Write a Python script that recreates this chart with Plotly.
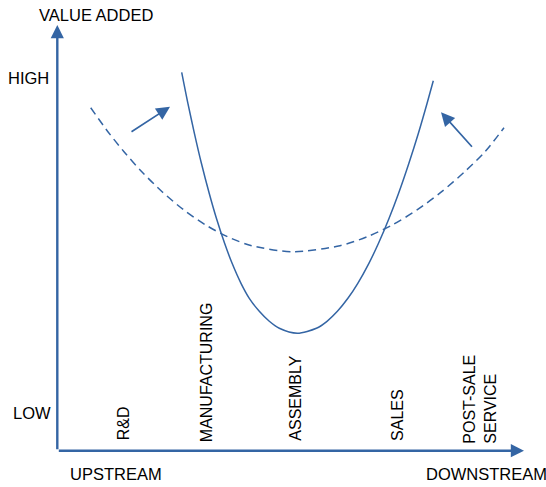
import plotly.graph_objects as go

# Coordinates are in chart units (origin = where the two axes meet)
W, H = 546, 487
X_MIN, X_MAX = -57.3, 488.7
Y_MIN, Y_MAX = -36.3, 450.7

BLUE = "#3465A4"

# Solid "smile" curve (current value added)
solid_x = [124.4, 130.6, 137.1, 144.1, 151.9, 159.1, 167.3, 174.8, 183.7, 192.0,
           202.0, 212.0, 222.0, 240.0,
           259.1, 269.7, 280.1, 290.6, 300.5, 311.6, 321.2, 331.8, 341.3, 351.6,
           361.1, 369.8, 376.0]
solid_y = [378.4, 347.4, 317.4, 287.4, 257.4, 232.4, 207.4, 187.4, 167.4, 152.4,
           139.4, 129.4, 122.4, 117.4,
           122.4, 129.4, 139.4, 152.4, 167.4, 187.4, 207.4, 232.4, 257.4, 287.4,
           317.4, 347.4, 370.0]

# Dashed curve (flatter value curve)
dashed_x = [33.4, 50.6, 66.7, 84.5, 104.8, 126.2, 147.9, 170.2, 194.3, 235.7,
            282.7, 310.1, 335.5, 360.1, 384.4, 407.4, 427.7, 446.7]
dashed_y = [343.0, 319.0, 299.0, 279.0, 259.0, 241.0, 226.0, 214.0, 205.0, 199.0,
            205.0, 214.0, 226.0, 241.0, 259.0, 279.0, 299.0, 323.0]

# Axes (origin -> arrow tip)
axis_x_tip = (466.7, 0.0)
axis_y_tip = (0.0, 425.7)

# Shift arrows: (tail_x, tail_y, tip_x, tip_y)
shift_arrows = [
    (72.7, 318.0, 112.7, 344.0),
    (416.0, 302.4, 383.7, 338.4),
]

# Stage labels along the chain (x centre, bottom y)
stage_labels = ["R&D", "MANUFACTURING", "ASSEMBLY", "SALES", "POST-SALE<br>SERVICE"]
stage_x = [65.7, 148.7, 238.7, 339.4, 422.7]
stage_bottom = [9.5, 7.5, 8.5, 8.5, 5.5]

FONT = "Liberation Sans, Arial, sans-serif"

fig = go.Figure()
fig.add_trace(go.Scatter(x=solid_x, y=solid_y, mode="lines",
                         line=dict(color=BLUE, width=1.5, shape="spline", smoothing=0.8),
                         hoverinfo="skip"))
fig.add_trace(go.Scatter(x=dashed_x, y=dashed_y, mode="lines",
                         line=dict(color=BLUE, width=1.5, dash="8px,5px",
                                   shape="spline", smoothing=0.8),
                         hoverinfo="skip"))

ann = []
# axes with arrowheads
for tip in (axis_x_tip, axis_y_tip):
    ann.append(dict(x=tip[0], y=tip[1], ax=0, ay=0, xref="x", yref="y",
                    axref="x", ayref="y", text="", showarrow=True,
                    arrowhead=2, arrowsize=1.1, arrowwidth=2.4,
                    arrowcolor=BLUE, standoff=0, startstandoff=0))
for (tx, ty, hx, hy) in shift_arrows:
    ann.append(dict(x=hx, y=hy, ax=tx, ay=ty, xref="x", yref="y",
                    axref="x", ayref="y", text="", showarrow=True,
                    arrowhead=2, arrowsize=1.6, arrowwidth=1.7,
                    arrowcolor=BLUE, standoff=0, startstandoff=0))

txt = dict(family=FONT, size=16.5, color="#000000")
# axis texts
ann.append(dict(x=-20.6, y=436.0, xref="x", yref="y", text="VALUE ADDED",
                showarrow=False, xanchor="left", yanchor="middle", font=txt))
ann.append(dict(x=-6.0, y=372.4, xref="x", yref="y", text="HIGH",
                showarrow=False, xanchor="right", yanchor="middle", font=txt))
ann.append(dict(x=-4.6, y=37.7, xref="x", yref="y", text="LOW",
                showarrow=False, xanchor="right", yanchor="middle", font=txt))
ann.append(dict(x=10.4, y=-23.6, xref="x", yref="y", text="UPSTREAM",
                showarrow=False, xanchor="left", yanchor="middle", font=txt))
ann.append(dict(x=366.7, y=-23.3, xref="x", yref="y", text="DOWNSTREAM",
                showarrow=False, xanchor="left", yanchor="middle", font=txt))

rot = dict(family=FONT, size=16, color="#000000")
for lab, sx, sb in zip(stage_labels, stage_x, stage_bottom):
    ann.append(dict(x=sx, y=sb, xref="x", yref="y", text=lab, textangle=-90,
                    showarrow=False, xanchor="center", yanchor="bottom",
                    align="left", font=rot, borderpad=0))

fig.update_layout(
    width=W, height=H,
    margin=dict(l=0, r=0, t=0, b=0),
    paper_bgcolor="white", plot_bgcolor="white",
    showlegend=False,
    xaxis=dict(range=[X_MIN, X_MAX], visible=False, fixedrange=True),
    yaxis=dict(range=[Y_MIN, Y_MAX], visible=False, fixedrange=True),
    annotations=ann,
)

fig.write_html("out.html", config={"displayModeBar": False},
               post_script="document.body.style.margin='0';")
